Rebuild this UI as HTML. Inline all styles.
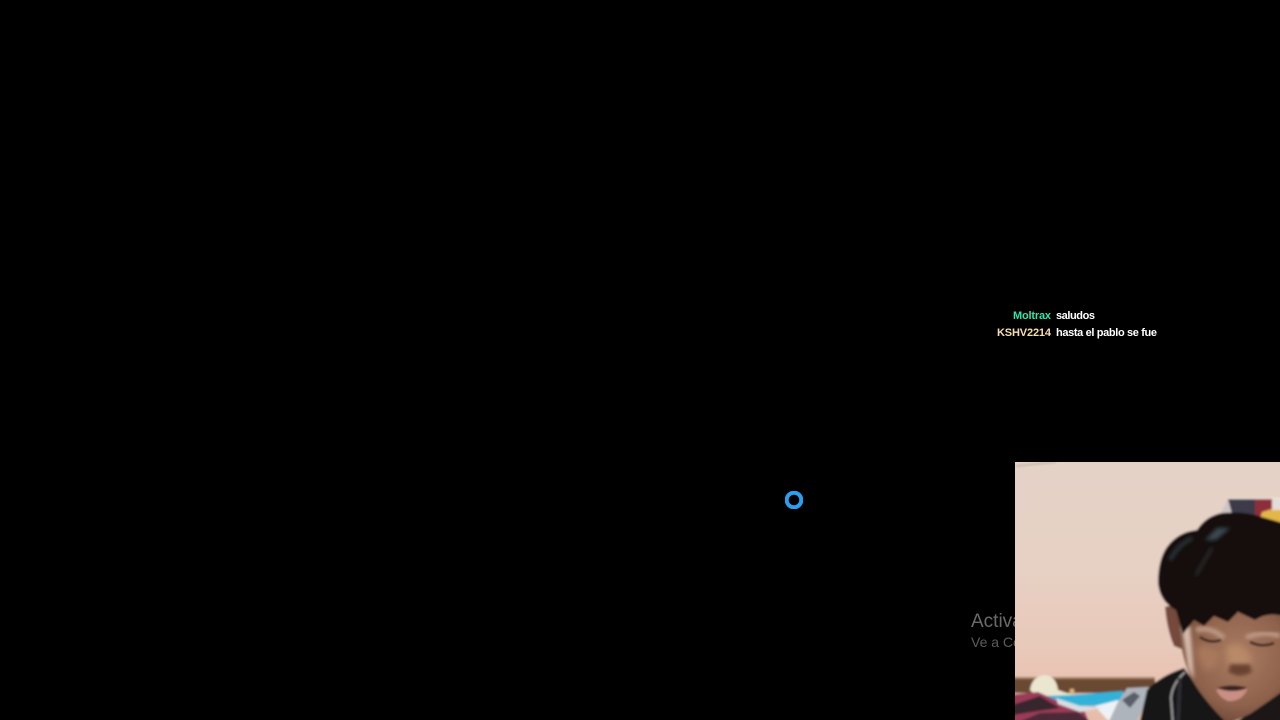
<!DOCTYPE html>
<html lang="es">
<head>
<meta charset="utf-8">
<title>Stream</title>
<style>
html,body{margin:0;padding:0;background:#000;width:1280px;height:720px;overflow:hidden}
svg{display:block;position:absolute;left:0;top:0}
text{font-family:"Liberation Sans",sans-serif}
</style>
</head>
<body>
<svg width="1280" height="720" viewBox="0 0 1280 720" xmlns="http://www.w3.org/2000/svg">
<defs>
<linearGradient id="wall" x1="0" y1="0" x2="0" y2="1">
<stop offset="0" stop-color="#e4d2c7"/>
<stop offset=".4" stop-color="#e7d1c5"/>
<stop offset=".7" stop-color="#e8c9ba"/>
<stop offset="1" stop-color="#e6bba8"/>
</linearGradient>
<radialGradient id="skin" cx=".55" cy=".42" r=".7">
<stop offset="0" stop-color="#a97c62"/>
<stop offset=".6" stop-color="#8f624c"/>
<stop offset="1" stop-color="#5a3a2e"/>
</radialGradient>
<filter id="b1" x="-10%" y="-10%" width="120%" height="120%"><feGaussianBlur stdDeviation=".35"/></filter>
<filter id="all" filterUnits="userSpaceOnUse" x="990" y="440" width="320" height="300"><feGaussianBlur stdDeviation="1"/></filter>
<filter id="b2" x="-30%" y="-30%" width="160%" height="160%"><feGaussianBlur stdDeviation="1.5"/></filter>
<filter id="b3" x="-30%" y="-30%" width="160%" height="160%"><feGaussianBlur stdDeviation="3.5"/></filter>
<clipPath id="cam"><rect x="1015" y="462" width="265" height="258"/></clipPath>
</defs>

<rect width="1280" height="720" fill="#000"/>

<g filter="url(#b1)" font-weight="700" font-size="11">
<text x="1051" y="319" text-anchor="end" fill="#35e2aa" textLength="38">Moltrax</text>
<text x="1056" y="319" fill="#fff" textLength="39">saludos</text>
<text x="1051" y="336" text-anchor="end" fill="#f6dfae" textLength="54">KSHV2214</text>
<text x="1056" y="336" fill="#fff" textLength="101">hasta el pablo se fue</text>
</g>

<circle cx="794" cy="500" r="7.3" fill="none" stroke="#2b9ff0" stroke-width="4" filter="url(#b1)"/>

<g filter="url(#b1)">
<text x="971" y="627" fill="#6a6a6a" font-size="19">Activar Windows</text>
<text x="971" y="647" fill="#5c5c5c" font-size="14">Ve a Configuración</text>
</g>

<g clip-path="url(#cam)">
<g filter="url(#all)">
<rect x="1000" y="450" width="300" height="280" fill="url(#wall)"/>
<path d="M1016 466L1056 462" stroke="#a89c92" stroke-width="1"/>

<rect x="1228" y="498" width="60" height="2" fill="#f0e8e4"/>
<rect x="1228" y="499" width="28" height="22" fill="#3a3a48"/>
<rect x="1255" y="499" width="30" height="24" fill="#8e2f3a"/>
<path d="M1262 512L1285 505V525H1258Z" fill="#e3b64a"/>
<path d="M1272 499h12v11h-12z" fill="#e4dcd8"/>
<path d="M1228 499L1220 514L1232 514Z" fill="#cfc4c4"/>

<rect x="1000" y="678" width="155" height="15" fill="#6a4a32"/>
<rect x="1000" y="677" width="155" height="2" fill="#a67f64"/>
<path d="M1043 693L1072 695L1085 694L1123 691L1124 702L1095 706L1060 706Z" fill="#33b2d8"/>
<path d="M1095 706L1118 700L1130 718L1112 725Z" fill="#eef2f6"/>
<path d="M1030 690Q1032 676 1045 675Q1056 676 1058 690Q1064 692 1072 695L1045 696Q1034 695 1030 690Z" fill="#ebe6d0"/>
<circle cx="1072" cy="691" r="2.5" fill="#d8b272"/>
<path d="M1000 696L1038 692L1060 702L1085 712L1092 730H1000Z" fill="#9c3a58"/>
<path d="M1000 709L1040 696L1060 708L1038 711L1000 717Z" fill="#38262e"/>
<path d="M1000 730L1040 713L1078 712L1100 730Z" fill="#4b2a38"/>
<path d="M1056 698L1080 706L1102 708L1080 712L1058 704Z" fill="#d9dde2"/>
<path d="M1117 704L1127 688L1149 687L1146 702L1133 730H1105Z" fill="#aeb4bc"/>
<path d="M1122 700L1134 692L1140 696L1130 708Z" fill="#5a5e68"/>

<path d="M1138 730L1147 690Q1160 676 1184 668L1200 690L1232 730Z" fill="#141418"/>
<path d="M1225 730L1290 684V730Z" fill="#1a1615"/>

<path d="M1165 607Q1172 604 1180 612L1184 650L1174 646Q1167 630 1165 607Z" fill="#74493a"/>
<path d="M1178 620L1290 606V686Q1262 706 1250 714L1228 724Q1205 702 1192 680Q1181 660 1178 620Z" fill="url(#skin)"/>

<path d="M1181 626Q1186 650 1188 668L1194 680Q1192 650 1190 626Z" fill="#d6bbad" filter="url(#b2)"/>
<path d="M1196 650Q1206 640 1220 654Q1216 672 1204 670Z" fill="#a9795c" filter="url(#b3)"/>
<path d="M1226 648Q1240 636 1252 660L1246 674L1230 674Z" fill="#b98a68" filter="url(#b3)"/>
<path d="M1228 672Q1240 680 1252 672L1250 664L1230 664Z" fill="#6a4232" filter="url(#b2)"/>
<path d="M1196 630Q1210 626 1224 638" stroke="#bd9a86" stroke-width="5" fill="none" filter="url(#b2)"/>
<path d="M1200 637Q1210 644 1221 640" stroke="#2d1d18" stroke-width="2.4" fill="none"/>
<path d="M1246 638Q1262 630 1280 636" stroke="#bd9a86" stroke-width="5" fill="none" filter="url(#b2)"/>
<path d="M1250 642Q1262 648 1274 643" stroke="#2d1d18" stroke-width="2.4" fill="none"/>

<path d="M1216 690Q1232 684 1248 688Q1242 702 1228 701Q1220 698 1216 690Z" fill="#c98f85"/>
<path d="M1217 688Q1232 683 1248 688Q1232 694 1217 688Z" fill="#3a211c"/>

<path d="M1158 583Q1158 560 1167 547Q1178 532 1197 530Q1206 516 1222 513Q1245 511 1262 517L1290 525V618Q1270 610 1255 620L1238 612L1228 622L1214 616L1204 626L1194 620L1183 634L1176 610Q1160 602 1158 583Z" fill="#12100e"/>
<path d="M1205 540L1217 528L1230 528L1216 540Z" fill="#3b4650" filter="url(#b2)"/>
<path d="M1170 560Q1178 545 1192 538" stroke="#2b333a" stroke-width="4" fill="none" filter="url(#b2)"/>
<path d="M1196 575L1212 548" stroke="#2e2c2b" stroke-width="3" fill="none" filter="url(#b2)"/>

<path d="M1185 672Q1172 684 1171 698L1173 725" stroke="#9a9a9a" stroke-width="2" fill="none"/>
<path d="M1180 678L1178 725" stroke="#2c2c30" stroke-width="4" fill="none"/>
</g>
</g>
</svg>
</body>
</html>
